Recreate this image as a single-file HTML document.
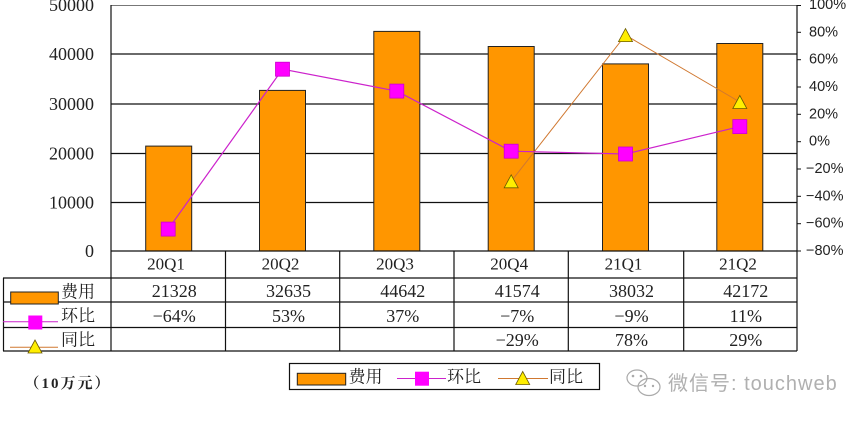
<!DOCTYPE html>
<html><head><meta charset="utf-8"><style>
html,body{margin:0;padding:0;background:#fff;}
svg{display:block;}
.ax{font-family:"Liberation Serif","Noto Serif CJK SC",serif;font-size:18px;fill:#222;}
.ar{font-family:"Liberation Sans",sans-serif;font-size:14.5px;fill:#222;}
.cat{font-family:"Liberation Serif",serif;font-size:17px;fill:#222;}
.val{font-family:"Liberation Serif",serif;font-size:18px;fill:#222;}
.cj{font-family:"Liberation Serif","Noto Serif CJK SC",serif;font-size:17px;fill:#222;}
</style></head><body>
<svg width="868" height="421" viewBox="0 0 868 421" xmlns="http://www.w3.org/2000/svg">
<rect width="868" height="421" fill="#fff"/>
<!-- gridlines -->
<g stroke="#111" stroke-width="1.2">
<line x1="111" y1="54" x2="797" y2="54"/>
<line x1="111" y1="104" x2="797" y2="104"/>
<line x1="111" y1="153.5" x2="797" y2="153.5"/>
<line x1="111" y1="202.5" x2="797" y2="202.5"/>
</g>
<line x1="111" y1="5.5" x2="797" y2="5.5" stroke="#777" stroke-width="1"/>
<!-- bars -->
<g fill="#ff9600" stroke="#222" stroke-width="1">
<rect x="145.7" y="146.1" width="46" height="104.9"/>
<rect x="259.5" y="90.4" width="46" height="160.6"/>
<rect x="373.8" y="31.4" width="46" height="219.6"/>
<rect x="488.2" y="46.5" width="46" height="204.5"/>
<rect x="602.5" y="63.9" width="46" height="187.1"/>
<rect x="716.8" y="43.5" width="46" height="207.5"/>
</g>
<!-- 同比 line -->
<polyline points="511.2,181.3 625.5,35.1 739.8,102" fill="none" stroke="#d07830" stroke-width="1"/>
<!-- 环比 line -->
<polyline points="168.2,229.1 282.5,69.2 396.8,91.1 511.2,151.2 625.5,154 739.8,126.6" fill="none" stroke="#cc22cc" stroke-width="1.2"/>
<!-- squares -->
<g fill="#ff00ff" stroke="#cc00cc" stroke-width="0.8">
<rect x="161.2" y="222.1" width="14" height="14"/>
<rect x="275.5" y="62.2" width="14" height="14"/>
<rect x="389.8" y="84.1" width="14" height="14"/>
<rect x="504.2" y="144.2" width="14" height="14"/>
<rect x="618.5" y="147" width="14" height="14"/>
<rect x="732.8" y="119.6" width="14" height="14"/>
</g>
<!-- triangles -->
<g fill="#ffee00" stroke="#6b5a00" stroke-width="0.8">
<polygon points="511.2,174.8 518.2,187.8 504.2,187.8"/>
<polygon points="625.5,28.6 632.5,41.6 618.5,41.6"/>
<polygon points="739.8,95.5 746.8,108.5 732.8,108.5"/>
</g>
<!-- table lines -->
<g stroke="#111" stroke-width="1.2">
<line x1="111" y1="251" x2="797" y2="251"/>
<line x1="3" y1="278" x2="797" y2="278"/>
<line x1="3" y1="302" x2="797" y2="302"/>
<line x1="3" y1="327.5" x2="797" y2="327.5"/>
<line x1="3" y1="351" x2="797" y2="351"/>
<line x1="3.5" y1="278" x2="3.5" y2="351"/>
<line x1="111" y1="5" x2="111" y2="351"/>
<line x1="225.5" y1="251" x2="225.5" y2="351"/>
<line x1="339.7" y1="251" x2="339.7" y2="351"/>
<line x1="454" y1="251" x2="454" y2="351"/>
<line x1="568.3" y1="251" x2="568.3" y2="351"/>
<line x1="683.7" y1="251" x2="683.7" y2="351"/>
<line x1="797" y1="5" x2="797" y2="351"/>
</g>
<!-- right ticks -->
<g stroke="#111" stroke-width="1">
<line x1="797" y1="5.5" x2="801" y2="5.5"/>
<line x1="797" y1="32.3" x2="801" y2="32.3"/>
<line x1="797" y1="59.7" x2="801" y2="59.7"/>
<line x1="797" y1="87" x2="801" y2="87"/>
<line x1="797" y1="114.3" x2="801" y2="114.3"/>
<line x1="797" y1="141.7" x2="801" y2="141.7"/>
<line x1="797" y1="169" x2="801" y2="169"/>
<line x1="797" y1="196.3" x2="801" y2="196.3"/>
<line x1="797" y1="223.7" x2="801" y2="223.7"/>
<line x1="797" y1="251" x2="801" y2="251"/>
</g>
<!-- left axis labels -->
<g class="ax" text-anchor="end" dominant-baseline="central">
<text x="94" y="5">50000</text>
<text x="94" y="54">40000</text>
<text x="94" y="104">30000</text>
<text x="94" y="153.5">20000</text>
<text x="94" y="202.5">10000</text>
<text x="94" y="251">0</text>
</g>
<!-- right axis labels -->
<g class="ar" dominant-baseline="central">
<text x="809" y="5">100%</text>
<text x="809" y="32.3">80%</text>
<text x="809" y="59.7">60%</text>
<text x="809" y="87">40%</text>
<text x="809" y="114.3">20%</text>
<text x="809" y="141.7">0%</text>
<text x="806" y="169">−20%</text>
<text x="806" y="196.3">−40%</text>
<text x="806" y="223.7">−60%</text>
<text x="806" y="251">−80%</text>
</g>
<!-- categories -->
<g class="cat" text-anchor="middle" dominant-baseline="central">
<text x="166" y="264">20Q1</text>
<text x="280.5" y="264">20Q2</text>
<text x="395" y="264">20Q3</text>
<text x="509.2" y="264">20Q4</text>
<text x="623.5" y="264">21Q1</text>
<text x="738" y="264">21Q2</text>
</g>
<!-- values -->
<g class="val" text-anchor="middle" dominant-baseline="central">
<text x="174.2" y="291">21328</text>
<text x="288.5" y="291">32635</text>
<text x="402.8" y="291">44642</text>
<text x="517.2" y="291">41574</text>
<text x="631.5" y="291">38032</text>
<text x="745.8" y="291">42172</text>
<text x="174.2" y="316">−64%</text>
<text x="288.5" y="316">53%</text>
<text x="402.8" y="316">37%</text>
<text x="517.2" y="316">−7%</text>
<text x="631.5" y="316">−9%</text>
<text x="745.8" y="316">11%</text>
<text x="517.2" y="340">−29%</text>
<text x="631.5" y="340">78%</text>
<text x="745.8" y="340">29%</text>
</g>
<!-- row label markers -->
<rect x="10.7" y="292" width="47.6" height="12" fill="#ff9600" stroke="#222" stroke-width="1"/>
<line x1="3" y1="321.7" x2="58" y2="321.7" stroke="#cc22cc" stroke-width="1"/>
<rect x="28.3" y="315.5" width="14" height="14" fill="#ff00ff"/>
<line x1="10" y1="347.3" x2="58" y2="347.3" stroke="#d07830" stroke-width="1"/>
<polygon points="35,340 42,353 28,353" fill="#ffee00" stroke="#6b5a00" stroke-width="0.8"/>
<g class="cj" dominant-baseline="central">
<text x="61" y="292">费用</text>
<text x="61" y="316">环比</text>
<text x="61" y="340">同比</text>
</g>
<!-- legend -->
<rect x="289.5" y="363.5" width="310" height="26" fill="#fff" stroke="#111" stroke-width="1.2"/>
<rect x="297.3" y="373.3" width="48.4" height="11.7" fill="#ff9600" stroke="#222" stroke-width="1"/>
<line x1="397" y1="378.5" x2="446" y2="378.5" stroke="#cc22cc" stroke-width="1"/>
<rect x="415" y="371.7" width="14" height="14" fill="#ff00ff"/>
<line x1="498" y1="378.5" x2="548" y2="378.5" stroke="#d07830" stroke-width="1"/>
<polygon points="522.7,371.5 529.7,384.5 515.7,384.5" fill="#ffee00" stroke="#6b5a00" stroke-width="0.8"/>
<g class="cj" dominant-baseline="central">
<text x="348.5" y="377">费用</text>
<text x="447" y="377">环比</text>
<text x="549" y="377">同比</text>
</g>
<!-- unit -->
<text x="24.5" y="384" dominant-baseline="central" style="font-family:'Liberation Serif','Noto Serif CJK SC',serif;font-size:15px;font-weight:bold;letter-spacing:2px;fill:#222;">（10万元）</text>
<!-- watermark -->
<g fill="none" stroke="#aaa" stroke-width="1.2">
<ellipse cx="637" cy="378" rx="10" ry="8"/>
<ellipse cx="649" cy="387" rx="11" ry="8.5"/>
</g>
<g fill="#aaa"><circle cx="633" cy="376" r="1.3"/><circle cx="641" cy="376" r="1.3"/><circle cx="645" cy="386" r="1.2"/><circle cx="653" cy="386" r="1.2"/></g>
<text x="668" y="384" dominant-baseline="central" style="font-family:'Liberation Sans','Noto Sans CJK SC',sans-serif;font-size:20px;fill:#b0b0b0;letter-spacing:1px;">微信号: touchweb</text>
</svg>
</body></html>
